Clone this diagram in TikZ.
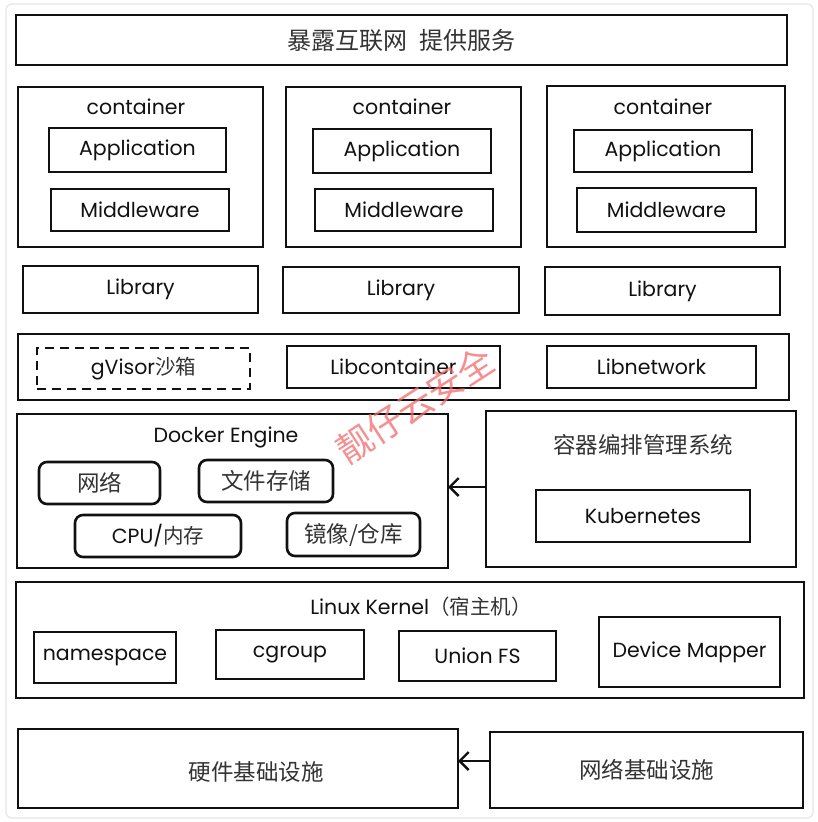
\documentclass[tikz,border=0pt]{standalone}
\usepackage{fontspec}
\setmainfont{Poppins}
\newfontfamily\cn{Noto Sans CJK SC}
\usetikzlibrary{arrows.meta}
\definecolor{ink}{HTML}{111111}
\definecolor{zhgray}{HTML}{333333}
\definecolor{framegray}{HTML}{E6E6E6}
\definecolor{wmred}{HTML}{F36B6B}
\tikzset{
  box/.style={draw=ink, line width=2.6pt, inner sep=0pt, outer sep=0pt},
  rbox/.style={box, rounded corners=8pt},
  dbox/.style={box, dash pattern=on 9pt off 6pt},
  lat/.style={font=\fontsize{20.5}{22}\selectfont, text=ink},
  zh/.style={font=\cn\fontsize{22.5}{24}\selectfont, text=zhgray},
  arr/.style={draw=ink, line width=2.4pt, -{Straight Barb[length=9pt,width=18pt,line width=2.4pt]}},
}
\newcommand\mybox[7]{\node[#1, anchor=north west, minimum width={#5pt-#3pt}, minimum height={#6pt-#4pt}] (#2) at (#3,#4) {#7};}
\begin{document}
\begin{tikzpicture}[x=1pt,y=-1pt]
\useasboundingbox (0,0) rectangle (818,822);
\fill[white] (0,0) rectangle (818,822);
\draw[framegray, line width=1.2pt, rounded corners=6pt] (6,4) rectangle (813,818);

% top
\mybox{box,zh}{top}{16}{15}{787}{65}{\fontsize{24}{26}\selectfont 暴露互联网\hspace{0.5em}提供服务}

% containers
\mybox{box}{c1}{18}{87}{263}{247}{}
\mybox{box}{c2}{286}{87}{521}{247}{}
\mybox{box}{c3}{547}{86}{785}{247}{}
\node[lat] (c1l) at (136,107) {container};
\node[lat] (c2l) at (402,107) {container};
\node[lat] (c3l) at (663,107) {container};
\mybox{box,lat}{app1}{49}{128}{226}{172}{Application}
\mybox{box,lat}{mid1}{51}{189}{229}{231}{Middleware}
\mybox{box,lat}{app2}{313}{129}{491}{173}{Application}
\mybox{box,lat}{mid2}{315}{189}{493}{231}{Middleware}
\mybox{box,lat}{app3}{574}{130}{752}{172}{Application}
\mybox{box,lat}{mid3}{577}{188}{756}{232}{Middleware}

% libraries
\mybox{box,lat}{lib1}{23}{266}{258}{313}{Library}
\mybox{box,lat}{lib2}{283}{267}{519}{313}{Library}
\mybox{box,lat}{lib3}{545}{267}{780}{315}{Library}

% runtime layer
\mybox{box}{rt}{18}{334}{789}{400}{}
\mybox{dbox,lat}{gv}{37}{348}{250}{389}{gVisor{\cn\color{zhgray}沙箱}}
\mybox{box,lat}{lc}{287}{346}{500}{388}{Libcontainer}
\mybox{box,lat}{ln}{547}{346}{756}{388}{Libnetwork}

% docker engine
\mybox{box}{de}{17}{414}{448}{568}{}
\node[lat] (del) at (226,437) {Docker Engine};
\mybox{rbox,zh}{net}{39}{462}{160}{504}{网络}
\mybox{rbox,zh}{fs}{199}{460}{333}{502}{文件存储}
\mybox{rbox,lat}{cpu}{75}{515}{241}{557}{CPU/{\cn\color{zhgray}内存}}
\mybox{rbox,zh}{img}{287}{513}{420}{556}{镜像/仓库}

% orchestration
\mybox{box}{orch}{486}{411}{796}{567}{}
\node[zh] (orchl) at (643,445) {容器编排管理系统};
\mybox{box,lat}{k8s}{536}{490}{750}{542}{Kubernetes}
\coordinate (oa) at (486,487);
\coordinate (da) at (448,487);
\draw[arr] (oa) -- (da);

% kernel
\mybox{box}{kern}{16}{582}{804}{698}{}
\node[lat] (kernl) at (421,607) {Linux Kernel{\cn\color{zhgray}（宿主机）}};
\mybox{box,lat}{ns}{34}{632}{176}{683}{namespace}
\mybox{box,lat}{cg}{216}{630}{364}{679}{cgroup}
\mybox{box,lat}{ufs}{399}{631}{556}{681}{Union FS}
\mybox{box,lat}{dm}{599}{617}{780}{687}{Device Mapper}

% infrastructure
\mybox{box}{hw}{18}{729}{458}{808}{}
\node[zh] (hwl) at (256,772) {硬件基础设施};
\mybox{box,zh}{ni}{490}{732}{803}{808}{网络基础设施}
\coordinate (na) at (490,761);
\coordinate (ha) at (458,761);
\draw[arr] (na) -- (ha);

% watermark
\node[rotate=33, text=wmred, opacity=0.75, font=\cn\fontsize{36}{36}\selectfont] (wm) at (415,405) {靓仔云安全};
\end{tikzpicture}
\end{document}
